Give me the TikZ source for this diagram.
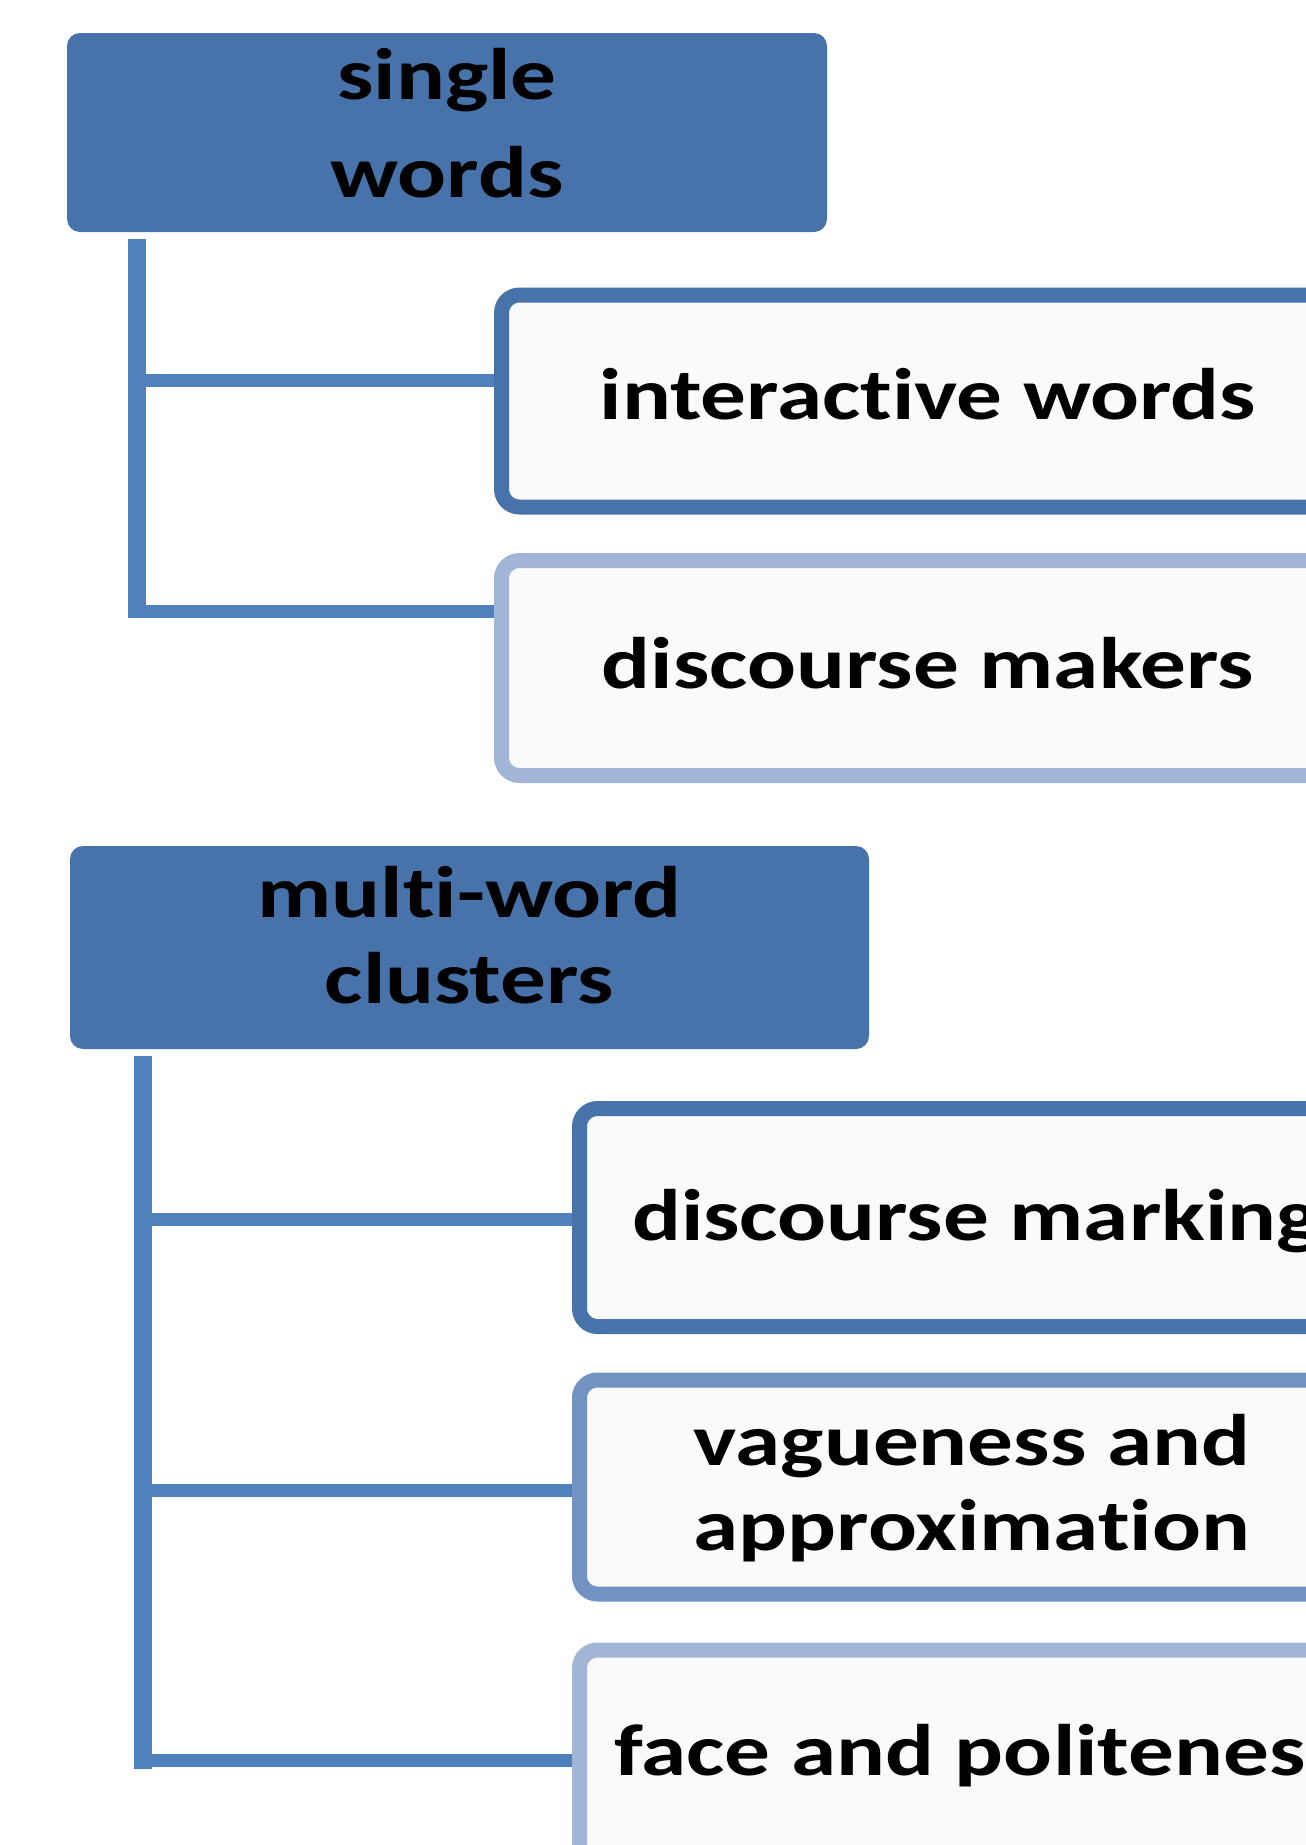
\documentclass[tikz,border=0pt]{standalone}
\usepackage{fontspec}
\setmainfont{Carlito}[FakeStretch=1.25, Ligatures={TeX,NoCommon}]
\definecolor{hdblue}{HTML}{4773AA}
\definecolor{lnblue}{HTML}{4F81BD}
\definecolor{midblue}{HTML}{7292C2}
\definecolor{paleblue}{HTML}{A2B5D6}
\definecolor{leafbg}{HTML}{FAFAFA}

\begin{document}
\begin{tikzpicture}[
            x=1pt, y=-1pt,
            font=\fontsize{73}{75}\selectfont\bfseries,
            head/.style={
                    fill=hdblue, rounded corners=13pt,
                    align=center, inner sep=0pt
                },
            leaf/.style={
                    draw=#1, fill=leafbg, line width=15pt, rounded corners=18pt,
                    align=center, inner sep=0pt
                },
            oneline/.style={text height=36pt, text depth=0pt},
            trunk/.style={lnblue, line width=18pt},
            twig/.style={lnblue, line width=13pt}
            ]
            \fill[white] (0,0) rectangle (1306,1845);
            \useasboundingbox (0,0) rectangle (1306,1845);
            \clip (0,0) rectangle (1306,1845);

            \node[head, text height=145pt, text depth=16pt, minimum width=760pt, minimum height=199pt] (single) at (447,132.5)
            {single\\[23pt]words};
            \node[leaf=hdblue, oneline, minimum width=853pt, minimum height=212pt] (inter) at (928,401)
            {interactive words};
            \node[leaf=paleblue, oneline, text height=40pt, minimum width=853pt, minimum height=215pt] (makers) at (928,668)
            {discourse makers};

            \coordinate (j1) at ([shift={(70,7)}]single.south west);
            \coordinate (b1) at ([yshift=21pt]inter.west);
            \coordinate (b2) at ([yshift=57pt]makers.west);
            \draw[trunk] (j1) -- (j1 |- b2) -- ++(0,7);
            \draw[twig] (j1 |- b1) -- (b1);
            \draw[twig] (j1 |- b2) -- (b2);

            \node[head, text height=133pt, text depth=22pt, minimum width=799pt, minimum height=203pt] (multi) at (469.5,947.5)
            {multi-word\\[11pt]clusters};
            \node[leaf=hdblue, oneline, text height=45pt, minimum width=793pt, minimum height=218pt] (marking) at (976,1217.5)
            {discourse marking};
            \node[leaf=midblue, text height=132pt, text depth=6pt, minimum width=785pt, minimum height=214pt] (vague) at (972,1487)
            {vagueness and\\[10pt]approximation};
            \node[leaf=paleblue, oneline, minimum width=797pt, minimum height=214pt] (face) at (978,1757)
            {face and politeness};

            \coordinate (j2) at ([shift={(73,7)}]multi.south west);
            \coordinate (b3) at ([yshift=-2pt]marking.west);
            \coordinate (b4) at ([yshift=-3pt]vague.west);
            \coordinate (b5) at ([yshift=-3pt]face.west);
            \draw[trunk] (j2) -- (j2 |- b5) -- ++(0,9);
            \draw[twig] (j2 |- b3) -- (b3);
            \draw[twig] (j2 |- b4) -- (b4);
            \draw[twig] (j2 |- b5) -- (b5);
        \end{tikzpicture}
\end{document}
